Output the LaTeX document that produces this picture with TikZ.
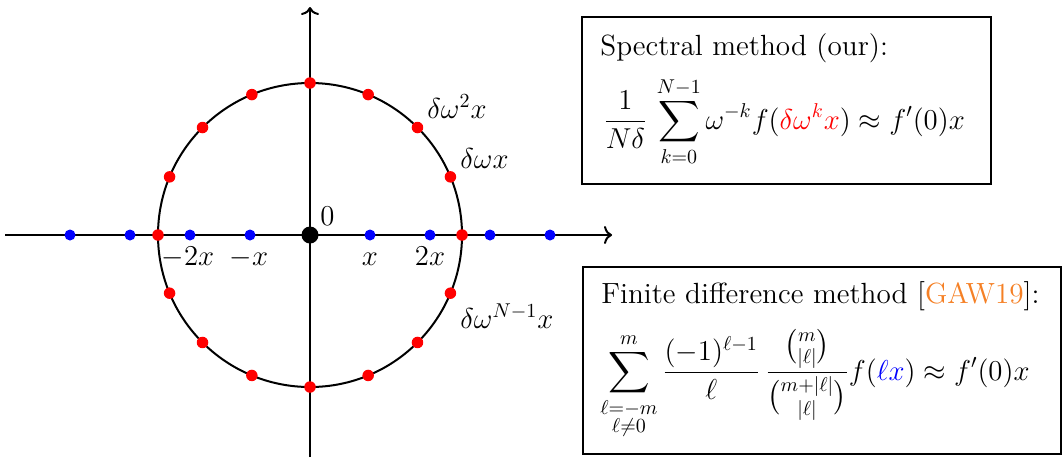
\documentclass[tikz,border=0pt]{standalone}
\usepackage{amsmath}
\usepackage{xcolor}
\usetikzlibrary{calc,arrows.meta}
\definecolor{citeorange}{RGB}{245,128,37}
\begin{document}
\begin{tikzpicture}[x=0.5pt,y=-0.5pt,
  every node/.style={font=\fontsize{14.6}{18}\selectfont},
  axis/.style={line width=1pt,-{To[length=4pt,width=9pt]}},
  reddot/.style={circle,fill=red,inner sep=0pt,minimum size=11.5*0.5pt},
  bluedot/.style={circle,fill=blue,inner sep=0pt,minimum size=11*0.5pt},
  origindot/.style={circle,fill=black,inner sep=0pt,minimum size=17*0.5pt},
  box/.style={draw,line width=1pt,inner sep=0pt,anchor=north west},
  lbl/.style={inner sep=0pt}]
\useasboundingbox (0,0) rectangle (1063,457);
% axes
\coordinate (xl) at (5,235);
\coordinate (xr) at (612,235);
\coordinate (yb) at (310,457);
\coordinate (yt) at (310,7);
\draw[axis] (xl) -- (xr);
\draw[axis] (yb) -- (yt);
% circle
\coordinate (c) at (310,235);
\draw[line width=1pt] (c) circle [radius=76pt];
% blue dots
\foreach \i in {-4,-3,-2,-1,1,2,3,4}
  \node[bluedot] (b\i) at ({310+60*\i},235) {};
% red dots
\foreach \k in {0,...,15}
  \node[reddot] (r\k) at ($(c)+({22.5*\k}:152)$) {};
\node[origindot] (o) at (c) {};
% axis labels
\node[lbl,anchor=base west] (l0) at (320,225) {$0$};
\node[lbl,anchor=base] (lx1) at (370,265) {$x$};
\node[lbl,anchor=base] (lx2) at (430,265) {$2x$};
\node[lbl,anchor=base] (lxm1) at (249,265) {$-x$};
\node[lbl,anchor=base] (lxm2) at (188,265) {$-2x$};
% circle labels
\node[lbl,anchor=base west] (w2) at (427,118) {$\delta\omega^2x$};
\node[lbl,anchor=base west] (w1) at (460,168) {$\delta\omega x$};
\node[lbl,anchor=base west] (wn) at (460,328) {$\delta\omega^{N-1}x$};
% boxes
\node[box,minimum width=409*0.5pt,minimum height=167*0.5pt] (box1) at (581,16) {};
\node[box,minimum width=478*0.5pt,minimum height=187*0.5pt] (box2) at (582,266) {};
\node[lbl,anchor=base west] (t1) at (600,55) {Spectral method (our):};
\node[lbl,anchor=base west] (f1) at (603,129)
  {$\displaystyle \frac{1}{N\delta}\,\sum_{k=0}^{N-1}\omega^{-k}f(\textcolor{red}{\delta\omega^k x})\approx f'(0)x$};
\node[lbl,anchor=base west] (t2) at (601,303) {Finite difference method [\textcolor{citeorange}{GAW19}]:};
\node[lbl,anchor=base west] (f2) at (600,380)
  {$\displaystyle \sum_{\substack{\ell=-m\\ \ell\neq0}}^{m}\frac{(-1)^{\ell-1}}{\ell}\,\frac{\binom{m}{|\ell|}}{\binom{m+|\ell|}{|\ell|}}f(\textcolor{blue}{\ell x})\approx f'(0)x$};
\end{tikzpicture}
\end{document}
